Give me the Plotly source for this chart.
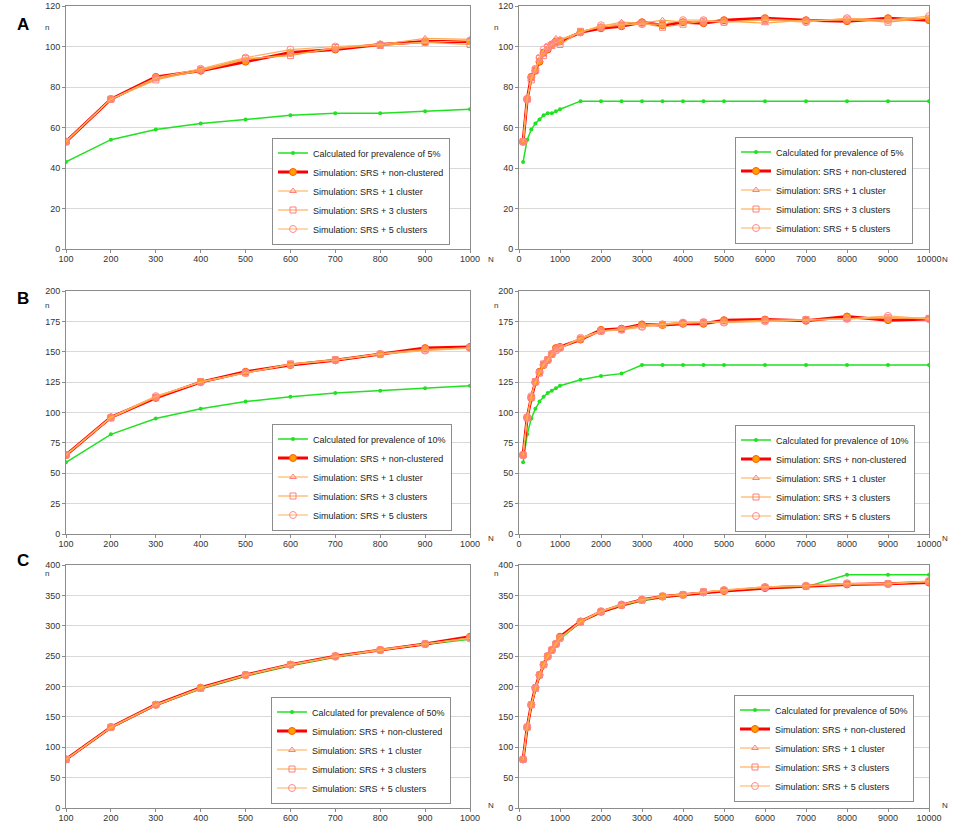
import plotly.graph_objects as go

# ---------------- data ----------------
N_small = [100, 200, 300, 400, 500, 600, 700, 800, 900, 1000]
N_large_ext = [1500, 2000, 2500, 3000, 3500, 4000, 4500, 5000, 6000, 7000, 8000, 9000, 10000]
N_large = N_small + N_large_ext

series_names = ["Calculated for prevalence of {p}",
                "Simulation: SRS + non-clustered",
                "Simulation: SRS + 1 cluster",
                "Simulation: SRS + 3 clusters",
                "Simulation: SRS + 5 clusters"]

# Panel A (prevalence 5%)
A_calc_s = [43, 54, 59, 62, 64, 66, 67, 67, 68, 69]
A_calc_l = [73, 73, 73, 73, 73, 73, 73, 73, 73, 73, 73, 73, 73]
A_nc_s = [53, 74, 85, 88, 92.5, 97, 98.5, 101, 102.5, 102.5]
A_nc_l = [107, 109, 110, 112, 110.5, 112, 111.5, 113, 114, 113, 112.5, 114, 113]
A_c1_s = [53, 74, 84, 88, 93.5, 96, 99, 101, 104, 103.5]
A_c1_l = [107, 110, 112, 111.5, 113, 112, 112.5, 112.5, 111.5, 113, 113, 113, 114]
A_c3_s = [53, 74, 83.5, 88.5, 94, 95.5, 99.5, 100.5, 102, 101]
A_c3_l = [107.5, 109.5, 110.5, 111.5, 109.5, 111, 112.5, 112, 113.5, 112.5, 113.5, 112, 114]
A_c5_s = [53, 74, 84.5, 89, 94.5, 98.5, 100, 101, 102, 103]
A_c5_l = [107, 110.5, 111, 111, 111, 113, 113, 112, 113, 112, 114, 113, 115]

# Panel B (prevalence 10%)
B_calc_s = [59, 82, 95, 103, 109, 113, 116, 118, 120, 122]
B_calc_l = [127, 130, 132, 139, 139, 139, 139, 139, 139, 139, 139, 139, 139]
B_nc_s = [65, 96, 112, 125, 133.5, 139, 143, 148, 153, 154]
B_nc_l = [160, 168, 169, 172.5, 172, 173, 173, 176, 176.5, 175.5, 179, 176, 177]
B_c1_s = [65, 96, 113, 125, 133, 139.5, 143, 148.5, 152, 153]
B_c1_l = [161, 167, 169, 172, 173, 174.5, 174, 175, 175, 176, 177, 178, 177]
B_c3_s = [65, 95.5, 112.5, 125.5, 132.5, 140, 143.5, 148, 151.5, 153.5]
B_c3_l = [160.5, 167, 168.5, 171, 172.5, 173.5, 174, 174.5, 176, 176.5, 177.5, 178, 177.5]
B_c5_s = [65, 96, 113.5, 125, 132.5, 139.5, 143, 148, 151, 153]
B_c5_l = [161.5, 167, 168, 170.5, 172.5, 174, 174.5, 174, 175, 176.5, 177, 179.5, 177]

# Panel C (prevalence 50%)
C_calc_s = [80, 132, 169, 196, 217, 234, 248, 260, 269, 278]
C_calc_l = [306, 322, 332, 341, 346, 350, 354, 357, 361, 364, 384, 384, 384]
C_nc_s = [80, 133, 170, 198, 219, 236, 250, 260, 270, 282]
C_nc_l = [307, 323, 334, 343, 348, 351, 355, 357, 362, 365, 368, 369, 371]
C_c1_s = [80, 132, 169, 197, 218, 235, 249, 261, 270, 280]
C_c1_l = [307, 324, 335, 342, 349, 352, 355, 358, 364, 366, 368, 370, 372]
C_c3_s = [80, 133, 170, 197, 219, 236, 250, 260, 270, 280]
C_c3_l = [306, 323, 334, 342, 348, 351, 356, 358, 363, 365, 369, 369, 373]
C_c5_s = [80, 133, 170, 198, 219, 236, 249, 260, 270, 279]
C_c5_l = [307, 324, 335, 343, 349, 351, 355, 359, 364, 366, 370, 369, 374]

panels = [
    ("A", "5%", [A_calc_s, A_nc_s, A_c1_s, A_c3_s, A_c5_s],
     [A_calc_l, A_nc_l, A_c1_l, A_c3_l, A_c5_l], 120, 20),
    ("B", "10%", [B_calc_s, B_nc_s, B_c1_s, B_c3_s, B_c5_s],
     [B_calc_l, B_nc_l, B_c1_l, B_c3_l, B_c5_l], 200, 25),
    ("C", "50%", [C_calc_s, C_nc_s, C_c1_s, C_c3_s, C_c5_s],
     [C_calc_l, C_nc_l, C_c1_l, C_c3_l, C_c5_l], 400, 50),
]

# ---------------- styling ----------------
W, H = 957, 825
styles = [
    dict(line=dict(color="#22e022", width=1.5),
         marker=dict(symbol="circle", size=4, color="#22e022")),
    dict(line=dict(color="#ff0000", width=3),
         marker=dict(symbol="circle", size=7, color="#ffa000",
                     line=dict(color="#ff5a00", width=1))),
    dict(line=dict(color="#ffa84a", width=1.2),
         marker=dict(symbol="triangle-up-open", size=6, color="#ff7f7f",
                     line=dict(width=1))),
    dict(line=dict(color="#ff9f3a", width=1.2),
         marker=dict(symbol="square-open", size=6, color="#ff7f7f",
                     line=dict(width=1))),
    dict(line=dict(color="#ffb060", width=1.2),
         marker=dict(symbol="circle-open", size=7, color="#ff8a8a",
                     line=dict(width=1))),
]

col_px = [(66, 470), (519, 929)]
row_px = [(6, 249), (291, 534), (565, 808)]
# legend box centres (px)
legend_px = {
    (0, 0): (361, 191), (0, 1): (824, 190),
    (1, 0): (362, 477), (1, 1): (825, 478),
    (2, 0): (361, 750), (2, 1): (824, 748),
}

FONT = "Liberation Sans"
LFONT = "Liberation Sans"
fig = go.Figure()
layout = dict(width=W, height=H, margin=dict(l=0, r=0, t=0, b=0, autoexpand=False),
              paper_bgcolor="white", plot_bgcolor="white",
              font=dict(family=FONT, size=9, color="#333333"))
annotations = []

ax_i = 0
for r, (letter, prev, small_vals, large_vals, ymax, dy) in enumerate(panels):
    for c in range(2):
        ax_i += 1
        xa = "x" if ax_i == 1 else f"x{ax_i}"
        ya = "y" if ax_i == 1 else f"y{ax_i}"
        lg = "legend" if ax_i == 1 else f"legend{ax_i}"
        xs = N_small if c == 0 else N_large
        for k in range(5):
            ys = small_vals[k] if c == 0 else small_vals[k] + large_vals[k]
            name = series_names[k].format(p=prev)
            fig.add_trace(go.Scatter(x=xs, y=ys, mode="lines+markers", name=name,
                                     xaxis=xa, yaxis=ya, legend=lg,
                                     line=styles[k]["line"], marker=styles[k]["marker"]))
        x0, x1 = col_px[c]
        y0, y1 = row_px[r]
        xkey = "xaxis" if ax_i == 1 else f"xaxis{ax_i}"
        ykey = "yaxis" if ax_i == 1 else f"yaxis{ax_i}"
        if c == 0:
            xr, xd, xt0 = [100, 1000], 100, 100
        else:
            xr, xd, xt0 = [0, 10000], 1000, 0
        layout[xkey] = dict(domain=[x0 / W, x1 / W], range=xr, dtick=xd, tick0=xt0,
                            tickformat="d", automargin=False, ticklabelstandoff=-2,
                            anchor=ya, showgrid=False, zeroline=False,
                            showline=True, linecolor="#8c8c8c", linewidth=1, mirror=True,
                            ticks="outside", ticklen=3, tickcolor="#8c8c8c",
                            tickfont=dict(size=9, color="#333333"))
        layout[ykey] = dict(domain=[1 - y1 / H, 1 - y0 / H], range=[0, ymax], dtick=dy,
                            anchor=xa, showgrid=True, gridcolor="#d9d9d9", gridwidth=1,
                            automargin=False,
                            zeroline=False, showline=True, linecolor="#8c8c8c",
                            linewidth=1, mirror=True, ticks="outside", ticklen=3,
                            tickcolor="#8c8c8c", tickfont=dict(size=9, color="#333333"))
        lx, ly = legend_px[(r, c)]
        layout[lg] = dict(x=lx / W, y=1 - ly / H, xanchor="center", yanchor="middle",
                          bgcolor="white", bordercolor="#8c8c8c", borderwidth=1,
                          font=dict(family=LFONT, size=9, color="#222222"),
                          itemwidth=30, tracegroupgap=0)
        # axis titles "n" and "N"
        annotations.append(dict(text="n", x=(x0 - 23) / W, y=1 - (y0 + 15) / H,
                                xref="paper", yref="paper", showarrow=False,
                                font=dict(size=8, color="#333333")))
        annotations.append(dict(text="N", x=(x1 + 21) / W, y=1 - (y1 + 4) / H,
                                xref="paper", yref="paper", showarrow=False,
                                font=dict(size=8, color="#333333")))
    annotations.append(dict(text=f"<b>{letter}</b>", x=15 / W, y=1 - (row_px[r][0] + 7) / H,
                            xref="paper", yref="paper", showarrow=False,
                            font=dict(family="Liberation Sans", size=17, color="#000000")))

layout["annotations"] = annotations
fig.update_layout(**layout)
fig.write_html("out.html", config={"displayModeBar": False},
               post_script="document.body.style.margin='0px';")
